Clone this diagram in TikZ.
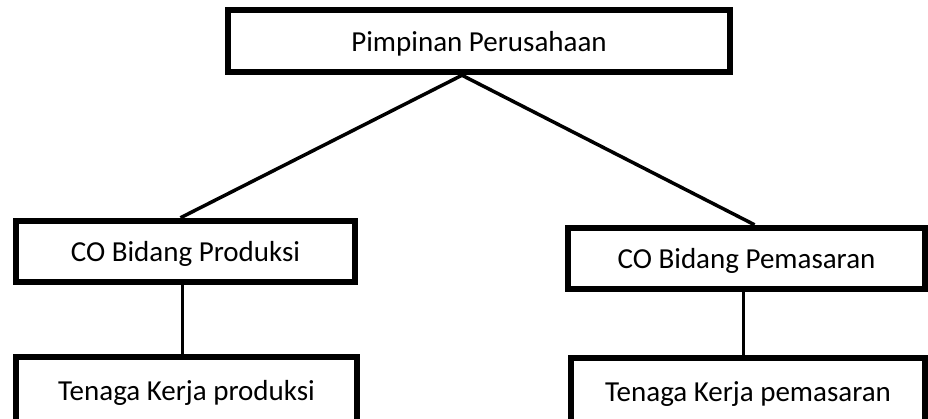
\documentclass[tikz,border=0pt]{standalone}
\usepackage{fontspec}
\setmainfont{Carlito}
\usepackage{tikz}
\usetikzlibrary{positioning}

\begin{document}
\begin{tikzpicture}[
    x=1pt, y=-1pt,
    jabatan/.style={rectangle, draw=black, fill=white, line width=6.5pt, inner sep=0pt, minimum height=61pt, text height=20pt, text depth=0pt, align=center, font=\fontsize{29}{35}\selectfont},
    garis/.style={draw=black, line width=3.5pt}
]
    \useasboundingbox (0,0) rectangle (928,418);

    % Pimpinan
    \node (pimpinan) [jabatan, minimum width=502pt, minimum height=62pt] at (479, 41) {Pimpinan Perusahaan};

    % CO per bidang
    \node (coprod) [jabatan, minimum width=339pt] at (185.5, 251.5) {CO Bidang Produksi};
    \node (copemas) [jabatan, minimum width=357pt] at (746.5, 258.5) {CO Bidang Pemasaran};

    % Tenaga kerja (bottom edge runs off the page)
    \node (tkprod) [jabatan, minimum width=341pt, minimum height=66pt] at (186.5, 390) {Tenaga Kerja produksi};
    \node (tkpemas) [jabatan, minimum width=354pt, minimum height=66pt] at (748, 391) {Tenaga Kerja pemasaran};

    % Draw Connections
    \draw [garis] ([xshift=-17pt]pimpinan.south) -- ([xshift=-5pt]coprod.north);
    \draw [garis] ([xshift=-17pt]pimpinan.south) -- ([xshift=8pt]copemas.north);
    \draw [garis] ([xshift=-3pt]coprod.south) -- ([xshift=-3pt]coprod.south |- tkprod.north);
    \draw [garis] ([xshift=-3pt]copemas.south) -- ([xshift=-3pt]copemas.south |- tkpemas.north);

\end{tikzpicture}
\end{document}
